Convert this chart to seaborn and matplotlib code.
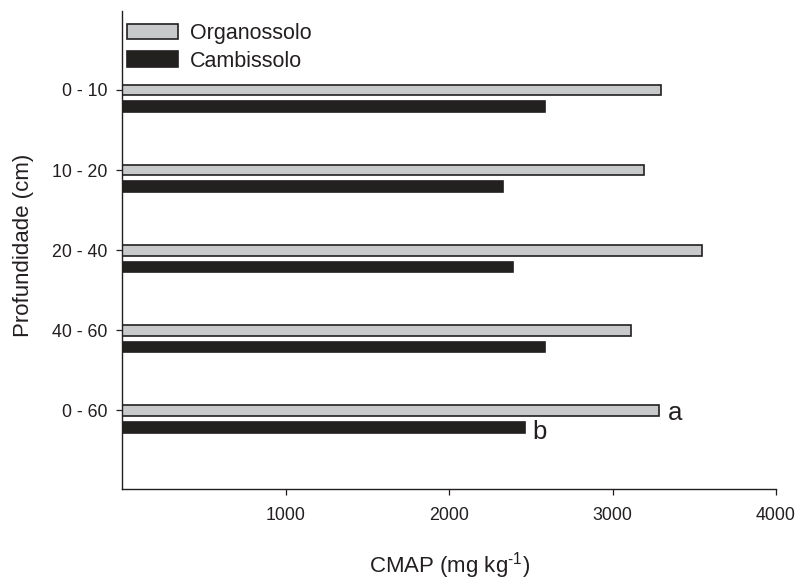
import numpy as np
import pandas as pd
import matplotlib
matplotlib.use("Agg")
import matplotlib.pyplot as plt
import seaborn as sns

# ---- data ----
profundidades = ["0 - 10", "10 - 20", "20 - 40", "40 - 60", "0 - 60"]
organossolo = [3296, 3189, 3546, 3115, 3285]
cambissolo = [2587, 2329, 2390, 2585, 2466]
solos = ["Organossolo", "Cambissolo"]
letras_organossolo = ["", "", "", "", "a"]
letras_cambissolo = ["", "", "", "", "b"]
x_ticks = [1000, 2000, 3000, 4000]

df = pd.DataFrame({
    "Profundidade": profundidades * 2,
    "CMAP": organossolo + cambissolo,
    "Solo": [solos[0]] * len(profundidades) + [solos[1]] * len(profundidades),
})

sns.set_style("ticks")
plt.rcParams["font.family"] = ["Liberation Sans", "DejaVu Sans"]
plt.rcParams["mathtext.fontset"] = "custom"
plt.rcParams["mathtext.rm"] = "Liberation Sans"
plt.rcParams["mathtext.it"] = "Liberation Sans:italic"
plt.rcParams["mathtext.default"] = "regular"

ink = "#231f20"
gray = "#c8c9cb"

fig = plt.figure(figsize=(7.97, 5.83), dpi=100)
ax = fig.add_axes([0.1535, 0.1607, 0.8202, 0.8204])

sns.barplot(data=df, x="CMAP", y="Profundidade", hue="Solo", orient="h",
            palette={solos[0]: gray, solos[1]: ink}, width=0.42, gap=0.36,
            edgecolor=ink, linewidth=1.2, ax=ax, legend=True)

off = 0.105
pos = np.arange(len(profundidades))
ax.set_yticks(pos - off, profundidades)
ax.set_ylim(4.88, -1.09)
ax.set_xlim(0, 4000)
ax.set_xticks(x_ticks)

for spine in ["top", "right"]:
    ax.spines[spine].set_visible(False)
for spine in ["left", "bottom"]:
    ax.spines[spine].set_linewidth(1.0)
    ax.spines[spine].set_color(ink)

ax.tick_params(axis="both", direction="out", length=4, width=0.9, color=ink,
               labelsize=12.8, labelcolor=ink)
ax.tick_params(axis="y", pad=6.5)
ax.tick_params(axis="x", pad=9)

ax.set_xlabel(r"CMAP (mg kg$^{\text{-1}}$)", fontsize=16, color=ink)
ax.set_ylabel("Profundidade (cm)", fontsize=16, color=ink)
ax.xaxis.set_label_coords(0.5, -0.128)
ax.yaxis.set_label_coords(-0.135, 0.51)

# letters
for i, (v, t) in enumerate(zip(organossolo, letras_organossolo)):
    if t:
        ax.annotate(t, xy=(v, i - off), xytext=(6, 0), textcoords="offset points",
                    ha="left", va="center_baseline", fontsize=18.5, color=ink)
for i, (v, t) in enumerate(zip(cambissolo, letras_cambissolo)):
    if t:
        ax.annotate(t, xy=(v, i + off), xytext=(5, -2), textcoords="offset points",
                    ha="left", va="center_baseline", fontsize=18.5, color=ink)

handles, labels = ax.get_legend_handles_labels()
if ax.get_legend() is not None:
    ax.get_legend().remove()
leg = fig.legend(handles, labels, loc="upper left", bbox_to_anchor=(0.159, 0.960),
                 frameon=False, fontsize=15.5, handlelength=2.37, handleheight=0.7,
                 handletextpad=0.56, labelspacing=0.29, borderpad=0, borderaxespad=0)
for txt in leg.get_texts():
    txt.set_color(ink)

fig.savefig("out.png", dpi=100)
